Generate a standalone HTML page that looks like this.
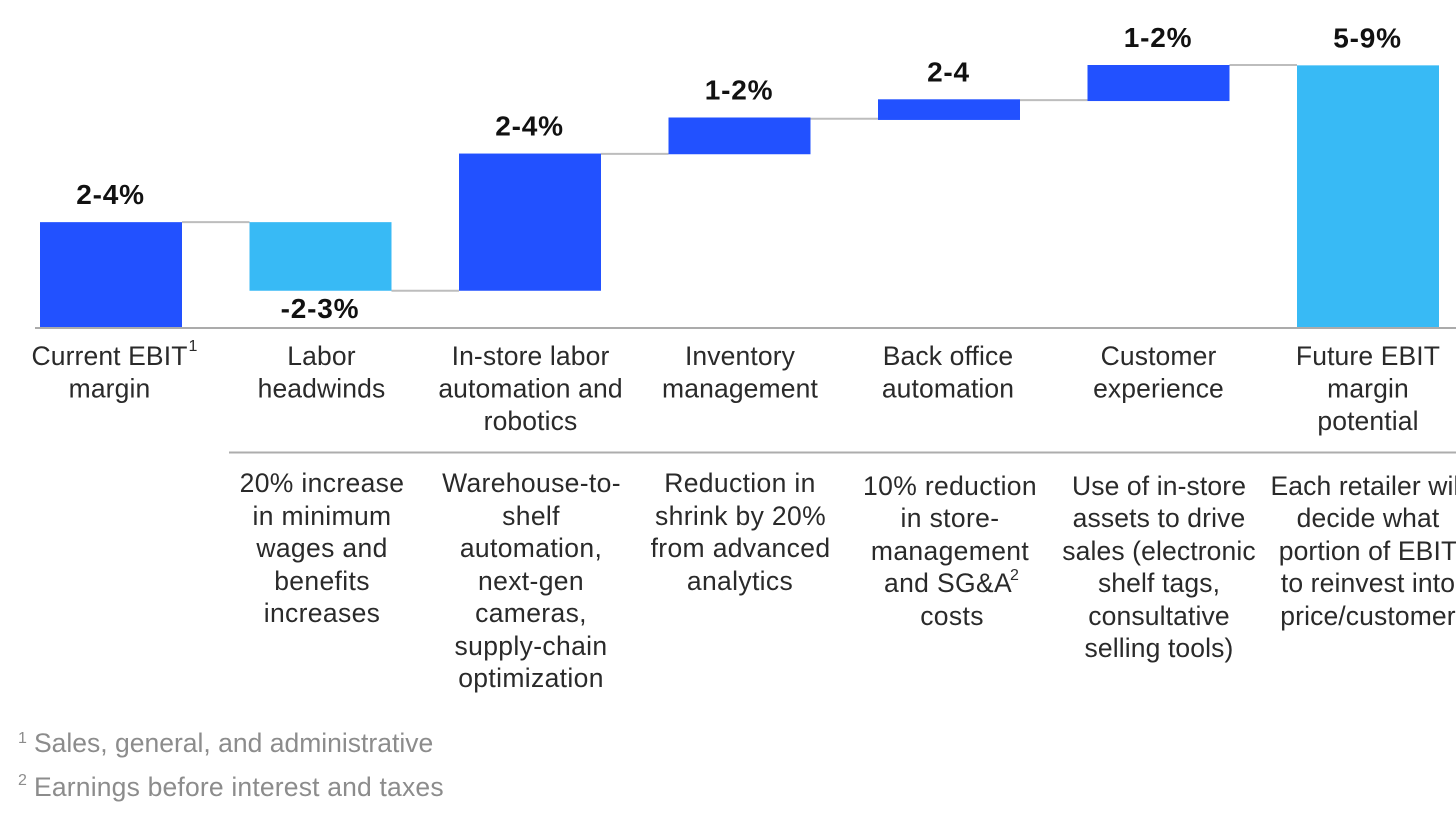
<!DOCTYPE html>
<html lang="en">
<head>
<meta charset="utf-8">
<title>EBIT margin waterfall</title>
<style>
  html, body { margin: 0; padding: 0; background: #fff; }
  body { width: 1456px; height: 835px; overflow: hidden; }
  svg { display: block; font-family: "Liberation Sans", Arial, sans-serif; }
  .cat { font-size: 26.5px; fill: #2a2a2a; text-anchor: middle; letter-spacing: 0.12px; }
  .desc { font-size: 26.5px; fill: #2a2a2a; text-anchor: middle; letter-spacing: 0.35px; }
  .tight .desc { letter-spacing: 0.12px; }
  .val { font-size: 28px; font-weight: 700; fill: #111; text-anchor: middle; letter-spacing: 0.8px; }
  .sup { font-size: 16px; fill: #2a2a2a; }
  .foot { font-size: 26.5px; fill: #8c8c8c; }
  .footsup { font-size: 16px; fill: #8c8c8c; }
</style>
</head>
<body>
<svg id="chart" width="1456" height="835" viewBox="0 0 1456 835" xmlns="http://www.w3.org/2000/svg">
  <g id="marks"></g>

  <line x1="229" y1="452.5" x2="1456" y2="452.5" stroke="#adadad" stroke-width="2"/>

  <text class="sup" x="188.5" y="351">1</text>

  <g>
    <text class="desc" x="322" y="492">20% increase</text>
    <text class="desc" x="322" y="525">in minimum</text>
    <text class="desc" x="322" y="557">wages and</text>
    <text class="desc" x="322" y="590">benefits</text>
    <text class="desc" x="322" y="622">increases</text>
  </g>
  <g>
    <text class="desc" x="531.5" y="492">Warehouse-to-</text>
    <text class="desc" x="531" y="525">shelf</text>
    <text class="desc" x="531" y="557">automation,</text>
    <text class="desc" x="531" y="590">next-gen</text>
    <text class="desc" x="531" y="622">cameras,</text>
    <text class="desc" x="531" y="655">supply-chain</text>
    <text class="desc" x="531" y="687">optimization</text>
  </g>
  <g>
    <text class="desc" x="740" y="492">Reduction in</text>
    <text class="desc" x="740.5" y="525">shrink by 20%</text>
    <text class="desc" x="740.5" y="557">from advanced</text>
    <text class="desc" x="740" y="590">analytics</text>
  </g>
  <g>
    <text class="desc" x="950" y="495">10% reduction</text>
    <text class="desc" x="950" y="527">in store-</text>
    <text class="desc" x="950" y="560">management</text>
    <text class="desc" x="948" y="592">and SG&amp;A</text>
    <text class="sup" x="1010" y="580">2</text>
    <text class="desc" x="952" y="625">costs</text>
  </g>
  <g class="tight">
    <text class="desc" x="1159" y="495">Use of in-store</text>
    <text class="desc" x="1159" y="527">assets to drive</text>
    <text class="desc" x="1159" y="560">sales (electronic</text>
    <text class="desc" x="1159" y="592">shelf tags,</text>
    <text class="desc" x="1159" y="625">consultative</text>
    <text class="desc" x="1159" y="657">selling tools)</text>
  </g>
  <g class="tight">
    <text class="desc" x="1368" y="495">Each retailer will</text>
    <text class="desc" x="1368" y="527">decide what</text>
    <text class="desc" x="1368" y="560">portion of EBIT</text>
    <text class="desc" x="1368" y="592">to reinvest into</text>
    <text class="desc" x="1368" y="625">price/customer</text>
  </g>

  <g>
    <text class="footsup" x="18" y="743">1</text>
    <text class="foot" x="34" y="752">Sales, general, and administrative</text>
    <text class="footsup" x="18" y="785">2</text>
    <text class="foot" x="34" y="796" style="letter-spacing:0.18px">Earnings before interest and taxes</text>
  </g>
</svg>

<script>
// Chart data (value units; each bar runs from its start level to its end level)
const categories = [
  ["Current EBIT", "margin"],
  ["Labor", "headwinds"],
  ["In-store labor", "automation and", "robotics"],
  ["Inventory", "management"],
  ["Back office", "automation"],
  ["Customer", "experience"],
  ["Future EBIT", "margin", "potential"]
];
const barStart = [0, 3.01, 1.05, 4.95, 5.93, 6.47, 0];
const barEnd   = [3.01, 1.05, 4.97, 6.0, 6.52, 7.5, 7.49];
const valueLabels = ["2-4%", "-2-3%", "2-4%", "1-2%", "2-4", "1-2%", "5-9%"];
const barKinds = ["gain", "loss", "gain", "gain", "gain", "gain", "total"];

// Axis functions
const plotBaseline = 327.5, unitHeight = 35;
const bandLeft = 40, bandStep = 209.5, bandWidth = 142;
function yScale(v) { return plotBaseline - v * unitHeight; }
function xScale(i) { return bandLeft + i * bandStep; }

const SVG_NS = "http://www.w3.org/2000/svg";
const marks = document.getElementById("marks");
const kindFill = { gain: "#2251ff", loss: "#38baf5", total: "#38baf5" };
const catCenterShift = [-1, 1.5, 1, 1, -0.5, 0.5, 0.5];
const catLineHeight = 32.5;
const catFirstBaseline = 365;

// connectors between consecutive bars
for (let i = 0; i < barEnd.length - 1; i++) {
  const c = document.createElementNS(SVG_NS, "line");
  const level = (barEnd[i] + barStart[i + 1]) / 2;
  const connectorLevel = i === barEnd.length - 2 ? barEnd[i] : level;
  c.setAttribute("x1", xScale(i) + bandWidth);
  c.setAttribute("x2", xScale(i + 1));
  c.setAttribute("y1", yScale(connectorLevel));
  c.setAttribute("y2", yScale(connectorLevel));
  c.setAttribute("stroke", "#bdbdbd");
  c.setAttribute("stroke-width", "2");
  
  
  marks.appendChild(c);
}

// bars and labels
barEnd.forEach(function (end, i) {
  const start = barStart[i];
  const top = Math.max(start, end);
  const bottom = Math.min(start, end);

  const r = document.createElementNS(SVG_NS, "rect");
  r.setAttribute("x", xScale(i));
  r.setAttribute("y", yScale(top));
  r.setAttribute("width", bandWidth);
  r.setAttribute("height", yScale(bottom) - yScale(top));
  r.setAttribute("fill", kindFill[barKinds[i]]);
  
  
  marks.appendChild(r);

  const t = document.createElementNS(SVG_NS, "text");
  t.setAttribute("class", "val");
  t.setAttribute("x", xScale(i) + bandWidth / 2 - 0.5);
  t.setAttribute("y", end < start ? yScale(bottom) + 27 : yScale(top) - 18);
  t.textContent = valueLabels[i];
  
  
  marks.appendChild(t);

  categories[i].forEach(function (line, k) {
    const l = document.createElementNS(SVG_NS, "text");
    l.setAttribute("class", "cat");
    l.setAttribute("x", xScale(i) + bandWidth / 2 + catCenterShift[i] - 0.5);
    l.setAttribute("y", catFirstBaseline + k * catLineHeight);
    l.textContent = line;
    
    
    marks.appendChild(l);
  });
});

// x-axis baseline
const axis = document.createElementNS(SVG_NS, "line");
axis.setAttribute("x1", 35);
axis.setAttribute("x2", 1456);
axis.setAttribute("y1", yScale(0) + 0.5);
axis.setAttribute("y2", yScale(0) + 0.5);
axis.setAttribute("stroke", "#ababab");
axis.setAttribute("stroke-width", "2");


marks.appendChild(axis);
</script>
</body>
</html>
